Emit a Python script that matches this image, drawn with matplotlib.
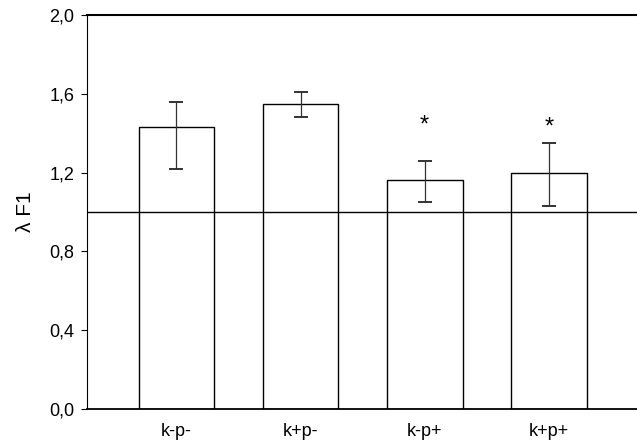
import matplotlib
matplotlib.use("Agg")
import matplotlib.pyplot as plt

groups = ["k-p-", "k+p-", "k-p+", "k+p+"]
lam = [1.43, 1.55, 1.16, 1.20]
err_hi = [1.56, 1.61, 1.26, 1.35]
err_lo = [1.22, 1.48, 1.05, 1.03]
stars = ["", "", "*", "*"]
star_y = [0, 0, 1.44, 1.43]
yticks = [0.0, 0.4, 0.8, 1.2, 1.6, 2.0]

plt.rcParams['font.family'] = ['Liberation Sans', 'DejaVu Sans']

fig = plt.figure(figsize=(6.37, 4.47), dpi=100)
ax = fig.add_axes([87/637, 1-409/447, 1-87/637, (409-15)/447])

x = list(range(len(groups)))
ax.bar(x, lam, width=0.61, color="white", edgecolor="black", linewidth=1.0, zorder=2)

lo = [v - l for v, l in zip(lam, err_lo)]
hi = [h - v for v, h in zip(lam, err_hi)]
ax.errorbar(x, lam, yerr=[lo, hi], fmt="none", ecolor="#333333", elinewidth=0.9,
            capsize=5, capthick=1.4, zorder=3)

for i in x:
    if stars[i]:
        ax.text(i, star_y[i], stars[i], ha="center", va="center", fontsize=17)

ax.axhline(1.0, color="black", linewidth=1.0, zorder=4)

ax.set_xlim(-0.72, 3.71)
ax.set_ylim(0, 2.0)
ax.set_yticks(yticks)
ax.set_yticklabels([("%.1f" % t).replace(".", ",") for t in yticks], fontsize=13)
ax.set_xticks(x)
ax.set_xticklabels(groups, fontsize=13)
ax.tick_params(axis="x", length=0, pad=10)
ax.tick_params(axis="y", direction="out", length=4, width=0.8, pad=5)
ax.spines["right"].set_visible(False)
ax.spines["top"].set_linewidth(1.5)
ax.spines["bottom"].set_linewidth(1.3)
ax.spines["left"].set_linewidth(0.8)
ax.set_ylabel("λ F1", fontsize=15, labelpad=10)

fig.savefig("out.png", dpi=100)
